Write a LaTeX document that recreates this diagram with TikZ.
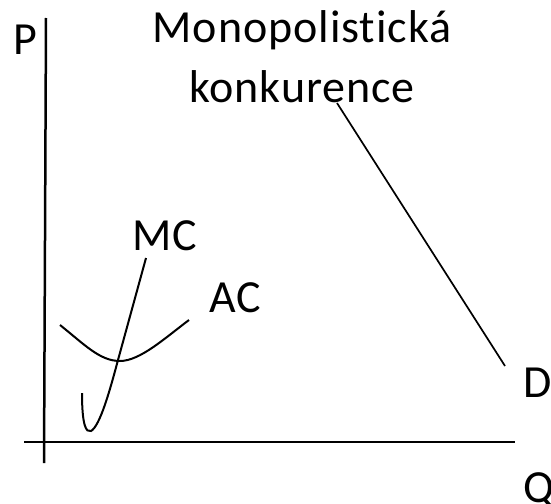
\documentclass[tikz,border=0pt]{standalone}
\usepackage{fontspec}
\setmainfont[Ligatures=NoCommon,LetterSpace=2]{Carlito}
\begin{document}
\begin{tikzpicture}[x=1pt,y=-1pt,
  lbl/.style={anchor=base west,inner sep=0pt,font=\fontsize{46}{56}\selectfont},
  ttl/.style={anchor=base,inner sep=0pt,font=\fontsize{46}{56}\selectfont},
  axisline/.style={line width=2.5pt},
  curve/.style={line width=2pt},
  dline/.style={line width=1.7pt}]
\useasboundingbox (0,0) rectangle (551,503);
% axes
\coordinate (ytop) at (46,18);
\coordinate (ybot) at (44,463);
\coordinate (xl) at (24,442);
\coordinate (xr) at (515,442);
\draw[axisline] (ytop) -- (ybot);
\draw[axisline] (xl) -- (xr);
% labels
\node[lbl] (P) at (13,55) {P};
\node[lbl] (Q) at (523,502) {Q};
\node[lbl] (D) at (523,397) {D};
\node[lbl] (MC) at (132,250) {MC};
\node[lbl] (AC) at (209,312) {AC};
\node[ttl] (t1) at (302,43) {Monopolistická};
\node[ttl] (t2) at (302,102) {konkurence};
% demand
\coordinate (dtop) at (337,103);
\coordinate (dbot) at (505,366);
\draw[dline] (dtop) -- (dbot);
% AC curve
\draw[curve] (60,325) .. controls (85,345) and (100,361) .. (120,361)
  .. controls (140,361) and (165,338) .. (189,320);
% MC curve
\draw[curve] (82,393) .. controls (82,425) and (86,433) .. (91,431)
  .. controls (100,426) and (110,390) .. (118,360) -- (146,258);
\end{tikzpicture}
\end{document}
